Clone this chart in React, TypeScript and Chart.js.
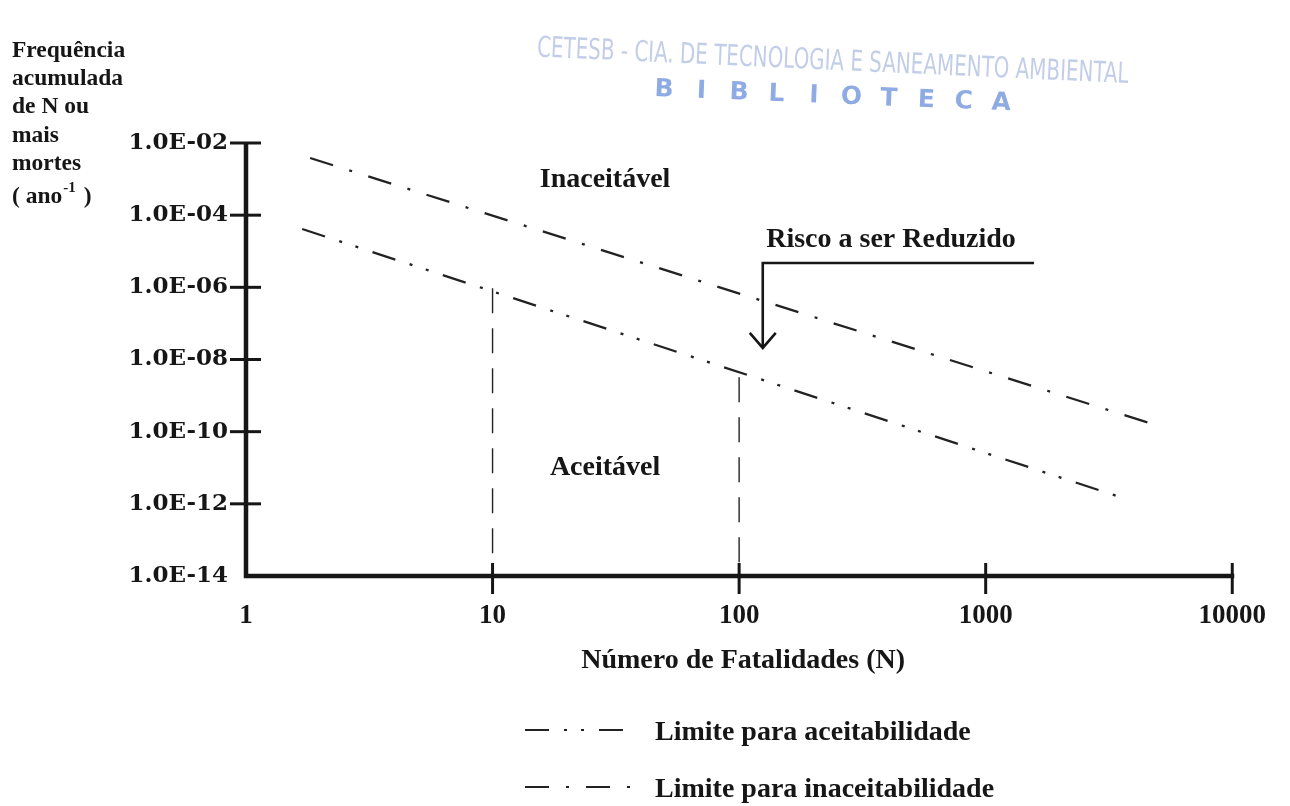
import React, { useEffect, useRef } from 'react';
import { Chart, registerables } from 'chart.js';

Chart.register(...registerables);

// ---- axis ticks ----
const X_TICK_VALUES = [1, 10, 100, 1000, 10000];
const X_TICK_LABELS = ['1', '10', '100', '1000', '10000'];
const Y_TICK_VALUES = [1e-14, 1e-12, 1e-10, 1e-8, 1e-6, 1e-4, 1e-2];
const Y_TICK_LABELS = ['1.0E-14', '1.0E-12', '1.0E-10', '1.0E-08', '1.0E-06', '1.0E-04', '1.0E-02'];

// ---- limit lines (N, frequency) ----
const N_INACEITABILIDADE = [1.82, 4613];
const F_INACEITABILIDADE = [3.84e-3, 1.74e-10];
const N_ACEITABILIDADE = [1.69, 3499];
const F_ACEITABILIDADE = [4.13e-5, 1.55e-12];

// ---- vertical reference lines at N = 10 and N = 100 ----
const N_MARKERS = [10, 100];
const F_MARKER_TOPS = [9.5e-7, 3.2e-9];
const F_FLOOR = 1e-14;

// ---- "Risco a ser Reduzido" arrow path ----
const N_ARROW = [1570, 124.7, 124.7];
const F_ARROW = [4.72e-6, 4.72e-6, 2.09e-8];

// ---- region labels ----
const REGION_TEXTS = ['Inaceitável', 'Aceitável', 'Risco a ser Reduzido'];
const REGION_N = [28.6, 28.6, 413];
const REGION_F = [9.4e-4, 9.8e-12, 2.04e-5];

// ---- titles ----
const X_TITLE = 'Número de Fatalidades (N)';
const Y_TITLE_LINES = ['Frequência', 'acumulada', 'de N ou', 'mais', 'mortes'];
const STAMP_LINE = 'CETESB - CIA. DE TECNOLOGIA E SANEAMENTO AMBIENTAL';
const STAMP_WORD = 'BIBLIOTECA';

const INK = '#161616';
const SERIF = '"Liberation Serif", "Times New Roman", serif';

const overlayPlugin = {
  id: 'overlay',
  afterDraw(chart: any) {
    const ctx: CanvasRenderingContext2D = chart.ctx;
    const xs = chart.scales.x;
    const ys = chart.scales.y;
    const { left, top, bottom, right } = chart.chartArea;
    ctx.save();

    // axes
    ctx.strokeStyle = INK;
    ctx.lineJoin = 'miter';
    ctx.lineCap = 'butt';
    ctx.lineWidth = 4.5;
    ctx.setLineDash([]);
    ctx.beginPath();
    ctx.moveTo(left, top);
    ctx.lineTo(left, bottom);
    ctx.lineTo(right + 2, bottom);
    ctx.stroke();

    // y ticks (crossing the axis)
    ctx.lineWidth = 3;
    Y_TICK_VALUES.forEach((v, i) => {
      if (i === 0) return;
      const y = ys.getPixelForValue(v);
      ctx.beginPath();
      ctx.moveTo(left - 16, y);
      ctx.lineTo(left + 15, y);
      ctx.stroke();
    });
    // x ticks (crossing the axis)
    X_TICK_VALUES.forEach((v, i) => {
      if (i === 0) return;
      const x = xs.getPixelForValue(v);
      ctx.beginPath();
      ctx.moveTo(x, bottom - 13);
      ctx.lineTo(x, bottom + 18);
      ctx.stroke();
    });

    // arrow head at the end of the arrow path
    const last = N_ARROW.length - 1;
    const tx = xs.getPixelForValue(N_ARROW[last]);
    const ty = ys.getPixelForValue(F_ARROW[last]);
    ctx.lineWidth = 2.6;
    ctx.beginPath();
    ctx.moveTo(tx - 13, ty - 15);
    ctx.lineTo(tx, ty);
    ctx.lineTo(tx + 13, ty - 15);
    ctx.stroke();

    // region texts
    ctx.fillStyle = INK;
    ctx.font = `bold 28px ${SERIF}`;
    ctx.textAlign = 'center';
    ctx.textBaseline = 'middle';
    REGION_TEXTS.forEach((t, i) => {
      ctx.fillText(t, xs.getPixelForValue(REGION_N[i]), ys.getPixelForValue(REGION_F[i]));
    });

    // x title
    ctx.fillText(X_TITLE, (left + right) / 2 + 4, 661);

    // y title (top-left block)
    ctx.font = `bold 23.5px ${SERIF}`;
    ctx.textAlign = 'left';
    ctx.textBaseline = 'alphabetic';
    Y_TITLE_LINES.forEach((t, i) => {
      ctx.fillText(t, 12, 57 + i * 28.2);
    });
    const unitBase = 203;
    ctx.fillText('( ano', 12, unitBase);
    let ux = 12 + ctx.measureText('( ano').width + 1;
    ctx.font = `bold 15px ${SERIF}`;
    ctx.fillText('-1', ux, unitBase - 11);
    ux += ctx.measureText('-1').width;
    ctx.font = `bold 23.5px ${SERIF}`;
    ctx.fillText(' )', ux + 2, unitBase);

    // legend
    const legendOrder = [1, 0];
    const legendY = [730, 787];
    legendOrder.forEach((di, row) => {
      const ds = chart.data.datasets[di];
      const y = legendY[row];
      ctx.strokeStyle = ds.borderColor;
      ctx.lineWidth = 2;
      ctx.setLineDash(ds.borderDash || []);
      ctx.beginPath();
      ctx.moveTo(525, y);
      ctx.lineTo(630, y);
      ctx.stroke();
      ctx.setLineDash([]);
      ctx.fillStyle = INK;
      ctx.font = `bold 28px ${SERIF}`;
      ctx.textBaseline = 'middle';
      ctx.fillText(ds.label, 655, y + 3);
    });

    // library stamp (faint blue)
    ctx.save();
    ctx.fillStyle = 'rgba(120,145,205,0.45)';
    ctx.translate(537, 49);
    ctx.rotate(0.045);
    ctx.font = '18px "DejaVu Sans Condensed", "Liberation Sans Narrow", sans-serif';
    ctx.textAlign = 'left';
    ctx.textBaseline = 'middle';
    const sw = ctx.measureText(STAMP_LINE).width;
    ctx.scale(592 / sw, 1.6);
    ctx.fillText(STAMP_LINE, 0, 0);
    ctx.restore();

    ctx.save();
    ctx.fillStyle = 'rgba(95,135,215,0.7)';
    ctx.translate(664, 90);
    ctx.rotate(0.04);
    ctx.font = 'bold 25px "DejaVu Sans", sans-serif';
    ctx.textAlign = 'center';
    ctx.textBaseline = 'middle';
    STAMP_WORD.split('').forEach((c, i) => {
      ctx.fillText(c, i * 37.5, 0);
    });
    ctx.restore();

    ctx.restore();
  },
};

export default function App() {
  const canvasRef = useRef<HTMLCanvasElement | null>(null);

  useEffect(() => {
    const canvas = canvasRef.current;
    if (!canvas) return;
    const lineColor = '#222222';
    const chart = new Chart(canvas, {
      type: 'line',
      data: {
        datasets: [
          {
            label: 'Limite para inaceitabilidade',
            data: N_INACEITABILIDADE.map((n, i) => ({ x: n, y: F_INACEITABILIDADE[i] })),
            borderColor: lineColor,
            borderWidth: 2.3,
            borderDash: [24, 17, 3, 17],
            pointRadius: 0,
            fill: false,
          },
          {
            label: 'Limite para aceitabilidade',
            data: N_ACEITABILIDADE.map((n, i) => ({ x: n, y: F_ACEITABILIDADE[i] })),
            borderColor: lineColor,
            borderWidth: 2.3,
            borderDash: [24, 15, 3, 14, 3, 15],
            pointRadius: 0,
            fill: false,
          },
          ...N_MARKERS.map((n, i) => ({
            label: `N = ${n}`,
            data: [
              { x: n, y: F_MARKER_TOPS[i] },
              { x: n, y: F_FLOOR },
            ],
            borderColor: lineColor,
            borderWidth: 1.4,
            borderDash: [25, 15],
            pointRadius: 0,
            fill: false,
          })),
          {
            label: 'Risco a ser Reduzido',
            data: N_ARROW.map((n, i) => ({ x: n, y: F_ARROW[i] })),
            borderColor: INK,
            borderWidth: 2.6,
            pointRadius: 0,
            fill: false,
          },
        ],
      },
      options: {
        animation: false,
        responsive: false,
        devicePixelRatio: 1,
        layout: { padding: { left: 8, right: 44, top: 143, bottom: 170 } },
        plugins: {
          legend: { display: false },
          tooltip: { enabled: false },
        },
        scales: {
          x: {
            type: 'logarithmic',
            position: 'bottom',
            min: 1,
            max: 10000,
            grid: { display: false, drawTicks: false },
            border: { display: false },
            afterBuildTicks: (s: any) => {
              s.ticks = X_TICK_VALUES.map((v) => ({ value: v }));
            },
            afterFit: (s: any) => {
              s.height = 60;
            },
            ticks: {
              autoSkip: false,
              maxRotation: 0,
              padding: 24,
              color: INK,
              font: { family: SERIF, size: 27, weight: 'bold' },
              callback: (_v: any, i: number) => X_TICK_LABELS[i],
            },
          },
          y: {
            type: 'logarithmic',
            position: 'left',
            min: 1e-14,
            max: 1e-2,
            grid: { display: false, drawTicks: false },
            border: { display: false },
            afterBuildTicks: (s: any) => {
              s.ticks = Y_TICK_VALUES.map((v) => ({ value: v }));
            },
            afterFit: (s: any) => {
              s.width = 238;
            },
            ticks: {
              autoSkip: false,
              padding: 18,
              color: INK,
              font: { family: '"DejaVu Serif", serif', size: 23, weight: 'bold' },
              callback: (_v: any, i: number) => Y_TICK_LABELS[i],
            },
          },
        },
      },
      plugins: [overlayPlugin],
    } as any);
    return () => chart.destroy();
  }, []);

  return (
    <div style={{ position: 'fixed', left: 0, top: 0, width: 1290, height: 806, background: '#fff' }}>
      <canvas ref={canvasRef} width={1290} height={806} style={{ display: 'block', width: 1290, height: 806 }} />
    </div>
  );
}
